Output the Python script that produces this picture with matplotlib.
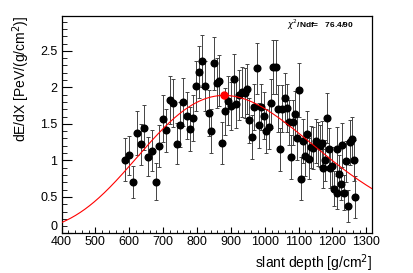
import numpy as np
import matplotlib
matplotlib.use('Agg')
import matplotlib.pyplot as plt
import matplotlib.transforms as mtransforms
from matplotlib.ticker import MultipleLocator

plt.rcParams['font.family'] = ['Liberation Sans', 'DejaVu Sans']

# slant depth [g/cm2], dE/dX [PeV/(g/cm2)], error
depth = [586, 599, 611, 623, 634, 644, 656, 667, 678, 689,
         699, 709, 720, 729, 740, 750, 760, 770, 779, 788,
         797, 806, 815, 824, 834, 842, 850, 858, 866, 875,
         884, 891, 901, 908, 915, 924, 933, 941, 948, 954,
         961, 969, 976, 984, 990, 998, 1005, 1012, 1018, 1025,
         1032, 1039, 1046, 1052, 1059, 1066, 1071, 1077, 1083, 1090,
         1096, 1101, 1108, 1113, 1120, 1126, 1131, 1137, 1143, 1150,
         1156, 1164, 1170, 1172, 1177, 1183, 1189, 1194, 1200, 1203,
         1212, 1213, 1220, 1225, 1229, 1234, 1241, 1247, 1251, 1257,
         1263, 1267]
dedx = [1.01, 1.07, 0.71, 1.38, 1.22, 1.45, 1.05, 1.13, 0.71, 1.20,
        1.57, 1.41, 1.83, 1.79, 1.23, 1.49, 1.80, 1.61, 1.43, 1.58,
        2.02, 2.21, 2.36, 2.02, 1.65, 1.40, 2.33, 2.06, 2.09, 1.24,
        1.67, 1.82, 1.75, 2.11, 1.77, 1.90, 1.94, 1.92, 1.98, 1.55,
        1.32, 1.73, 2.26, 1.48, 1.73, 1.61, 1.40, 1.46, 1.78, 2.28,
        2.28, 1.71, 1.15, 1.71, 1.86, 1.72, 1.52, 1.05, 1.52, 1.63,
        1.30, 1.96, 0.75, 1.27, 1.06, 1.36, 1.02, 1.18, 1.17, 1.27,
        1.22, 1.20, 1.24, 0.89, 1.00, 1.58, 1.16, 0.89, 0.92, 0.61,
        1.16, 0.56, 0.82, 0.68, 1.21, 0.56, 0.99, 0.37, 1.25, 1.29,
        1.00, 0.50]
err = [.29, .27, .22, .30, .28, .31, .27, .28, .25, .29,
       .32, .30, .33, .33, .28, .31, .33, .32, .30, .32,
       .34, .35, .36, .34, .32, .30, .36, .34, .35, .29,
       .32, .33, .33, .35, .33, .34, .34, .34, .34, .31,
       .30, .32, .35, .31, .32, .32, .30, .31, .33, .37,
       .37, .32, .29, .32, .34, .33, .31, .30, .31, .32,
       .30, .37, .29, .30, .28, .31, .28, .29, .29, .30,
       .30, .29, .30, .27, .28, .34, .29, .27, .27, .24,
       .30, .23, .26, .22, .30, .24, .28, .22, .31, .31,
       .28, .29]

# shower maximum from the fit
xmax_pt = [880]
nmax_pt = [1.89]
xmax_err = [8]
nmax_err = [0.05]

# Gaisser-Hillas fit parameters
gh_nmax = 1.89
gh_xmax = 880.0
gh_x0 = -170.0
gh_lam = 63.5

def gaisser_hillas(x):
    w = (gh_xmax - gh_x0) / gh_lam
    return gh_nmax * ((x - gh_x0) / (gh_xmax - gh_x0))**w * np.exp((gh_xmax - x) / gh_lam)

fig = plt.figure(figsize=(4.13, 2.73), dpi=100)
ax = fig.add_axes([0.149, 0.145, 0.752, 0.797])

ax.errorbar(depth, dedx, yerr=err, fmt='o', color='black', ms=4.8,
            ecolor='#444444', elinewidth=0.7, capsize=1.5, capthick=0.7, zorder=2)

xx = np.linspace(400, 1317, 400)
ax.plot(xx, gaisser_hillas(xx), color='red', lw=0.8, zorder=3)

ax.errorbar(xmax_pt, nmax_pt, xerr=xmax_err, yerr=nmax_err, fmt='o', color='red',
            ms=5, elinewidth=1, capsize=0, zorder=4)

ax.set_xlim(400, 1317)
ax.set_ylim(0, 2.98)
ax.xaxis.set_major_locator(MultipleLocator(100))
ax.xaxis.set_minor_locator(MultipleLocator(20))
ax.yaxis.set_minor_locator(MultipleLocator(0.1))
ax.set_yticks([0, 0.5, 1, 1.5, 2, 2.5])
ax.set_yticklabels(['0', '0.5', '1', '1.5', '2', '2.5'])
ax.tick_params(axis='both', which='both', direction='in', labelsize=9, top=False, right=False)
ax.tick_params(axis='x', which='major', length=4, pad=2)
ax.tick_params(axis='x', which='minor', length=2)
ax.tick_params(axis='y', which='major', length=7, pad=3)
ax.tick_params(axis='y', which='minor', length=3.5)
for s in ax.spines.values():
    s.set_linewidth(0.9)

# ROOT-style: lift the "0" label a bit off the x axis labels
fig.canvas.draw()
lab0 = ax.get_yticklabels()[0]
lab0.set_transform(lab0.get_transform() + mtransforms.ScaledTranslation(0, 6/72, fig.dpi_scale_trans))

ax.set_xlabel('slant depth [g/cm$^2$]', fontsize=10, loc='right', labelpad=3)
ax.set_ylabel('dE/dX [PeV/(g/cm$^2$)]', fontsize=10, loc='top', labelpad=6)

ax.text(0.94, 0.958, r'$\chi^2$/Ndf=   76.4/90', transform=ax.transAxes, fontsize=6,
        fontweight='bold', ha='right', va='center')

fig.savefig('out.png', dpi=100)
